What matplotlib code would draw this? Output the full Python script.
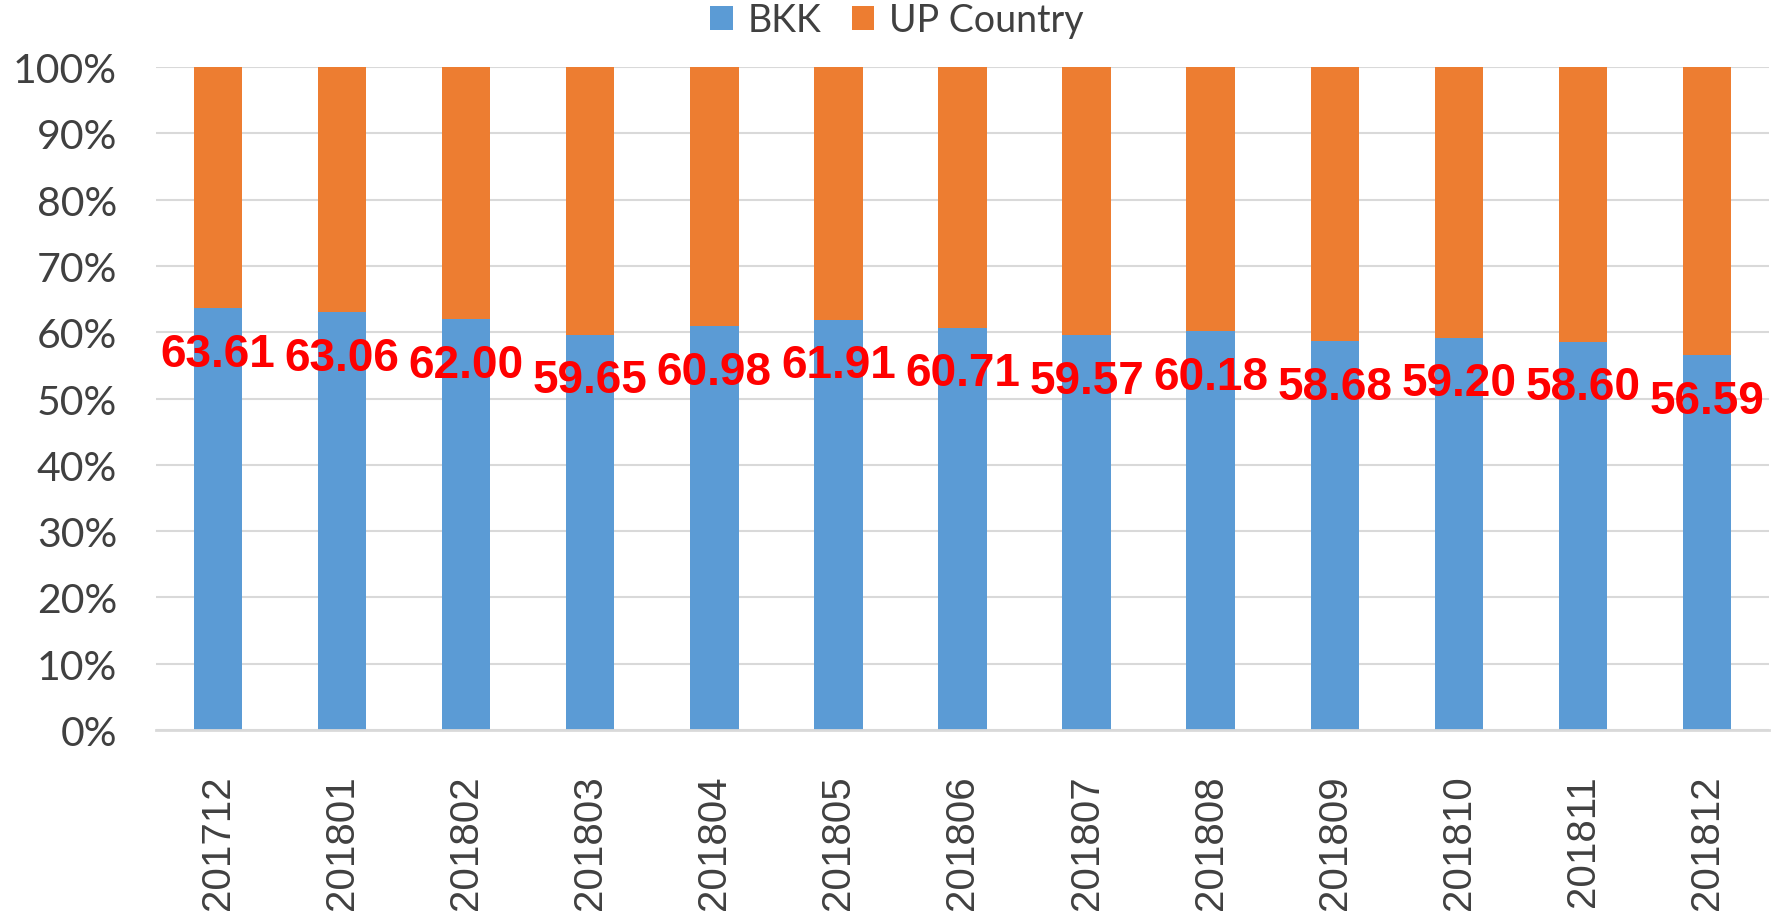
import matplotlib
matplotlib.use("Agg")
import matplotlib.pyplot as plt
import numpy as np

categories = ["201712", "201801", "201802", "201803", "201804", "201805", "201806",
              "201807", "201808", "201809", "201810", "201811", "201812"]
bkk = [63.61, 63.06, 62.00, 59.65, 60.98, 61.91, 60.71, 59.57, 60.18, 58.68, 59.20, 58.60, 56.59]
up_country = [100 - v for v in bkk]
y_ticks = [0, 10, 20, 30, 40, 50, 60, 70, 80, 90, 100]
y_tick_labels = [f"{t}%" for t in y_ticks]

BLUE = "#5B9BD5"
ORANGE = "#ED7D31"
TEXT = "#404040"
GRID = "#D9D9D9"

fig = plt.figure(figsize=(17.87, 9.2), dpi=100)
ax = fig.add_axes([0.0873, 0.2054, 0.9899 - 0.0873, 0.926 - 0.2054])

x = np.arange(len(categories))
w = 0.39
b1 = ax.bar(x, bkk, width=w, color=BLUE, label="BKK", zorder=3)
b2 = ax.bar(x, up_country, width=w, bottom=bkk, color=ORANGE, label="UP Country", zorder=3)

ax.set_xlim(-0.5, len(categories) - 0.5)
ax.set_ylim(0, 100)
ax.set_yticks(y_ticks)
ax.set_yticklabels(y_tick_labels, fontsize=29.5, color=TEXT, family=["Lato", "DejaVu Sans"])
ax.set_xticks(x)
ax.set_xticklabels(categories, rotation=90, fontsize=29, color=TEXT,
                   family=["Liberation Sans", "DejaVu Sans"], va="top")
ax.tick_params(axis="y", length=0, pad=28)
ax.tick_params(axis="x", length=0, pad=32)

for s in ["top", "right", "left"]:
    ax.spines[s].set_visible(False)
ax.spines["bottom"].set_color(GRID)
ax.spines["bottom"].set_linewidth(2)
ax.spines["bottom"].set_zorder(4)
ax.yaxis.grid(True, color=GRID, linewidth=1.5, zorder=0)
ax.set_axisbelow(True)

for xi, v in zip(x, bkk):
    ax.annotate(f"{v:.2f}", xy=(xi, v), xytext=(0, -33), textcoords="offset points",
                ha="center", va="center", color="#FF0000", fontsize=33, fontweight="bold",
                family=["Liberation Sans", "DejaVu Sans"], zorder=5)

leg = fig.legend(handles=[b1, b2], labels=["BKK", "UP Country"], loc="center",
                 bbox_to_anchor=(0.502, 1 - 21 / 920), ncol=2, frameon=False,
                 prop={"family": ["Lato", "DejaVu Sans"], "size": 27},
                 handlelength=0.6, handleheight=0.6, handletextpad=0.4, columnspacing=0.8)
for t in leg.get_texts():
    t.set_color(TEXT)

fig.savefig("out.png", dpi=100)
